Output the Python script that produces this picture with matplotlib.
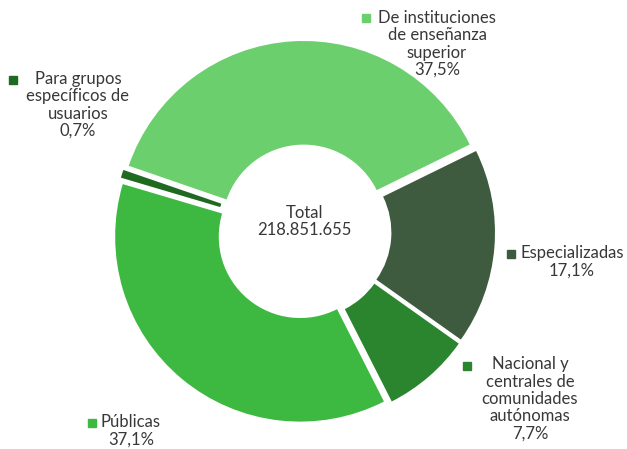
import matplotlib
matplotlib.use('Agg')
import matplotlib.pyplot as plt

W, H = 627, 449

# data (order = clockwise from the upper left)
labels = ['De instituciones\nde enseñanza\nsuperior', 'Especializadas',
          'Nacional y\ncentrales de\ncomunidades\nautónomas', 'Públicas',
          'Para grupos\nespecíficos de\nusuarios']
shares = [37.5, 17.1, 7.7, 37.1, 0.7]
pct_text = ['37,5%', '17,1%', '7,7%', '37,1%', '0,7%']
total_text = '218.851.655'

colors = ['#6ccf6e', '#3e5b3f', '#2b852e', '#3db942', '#1f6a21']
# label block centre (x, y in image px) and square marker position
label_pos = [(437, 44), (572, 262), (530, 399), (131, 431), (78, 105)]
square_pos = [(366, 18), (511, 254), (467, 366), (92, 423), (13, 80)]

plt.rcParams['font.family'] = ['Lato', 'DejaVu Sans']
txt_color = '#383838'
fsize = 12

fig = plt.figure(figsize=(W / 100, H / 100), dpi=100)
ax = fig.add_axes([0, 0, 1, 1])

cx, cy, R = 304, H - 232, 185
ax.pie(shares, colors=colors, startangle=161, counterclock=False,
       radius=R, center=(cx, cy), explode=[6] * len(shares),
       wedgeprops=dict(width=R * 0.56, linewidth=0), frame=True)
ax.set_xlim(0, W)
ax.set_ylim(0, H)
ax.set_aspect('equal')
ax.axis('off')

ax.text(cx, H - 221.5, 'Total\n' + total_text, ha='center', va='center',
        fontsize=fsize, color=txt_color, linespacing=1.1)

for lab, pct, (lx, ly), (sx, sy), c in zip(labels, pct_text, label_pos, square_pos, colors):
    ax.text(lx, H - ly, lab + '\n' + pct, ha='center', va='center',
            multialignment='center', fontsize=fsize, color=txt_color,
            linespacing=1.1)
    ax.plot(sx, H - sy, marker='s', markersize=6, color=c, linestyle='none')

fig.savefig('out.png', dpi=100)
